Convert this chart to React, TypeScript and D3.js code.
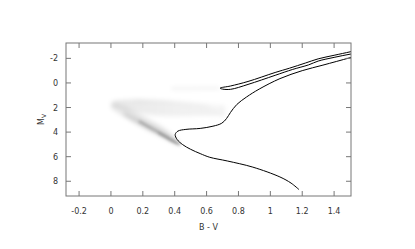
import * as d3 from 'd3'

// isochrone (B-V, M_V), from the lower main sequence up the giant branch,
// then back down to the horizontal branch and up the AGB
const isoBV = [1.18, 1.13, 1.06, 0.89, 0.73, 0.62, 0.56, 0.5, 0.45, 0.415, 0.403, 0.42, 0.47, 0.56, 0.64, 0.695, 0.725, 0.75, 0.79, 0.85, 0.93, 1.06, 1.2, 1.33, 1.5, 1.6,
    1.55, 1.5, 1.4, 1.3, 1.22, 1.12, 1.03, 0.86, 0.75, 0.685,
    0.7, 0.75, 0.86, 1.03, 1.14, 1.24, 1.3, 1.4, 1.5, 1.58]
const isoMV = [8.68, 8.15, 7.65, 6.85, 6.35, 6.05, 5.75, 5.4, 5.02, 4.6, 4.2, 3.92, 3.78, 3.7, 3.52, 3.28, 2.9, 2.4, 1.75, 1.15, 0.5, -0.35, -1.0, -1.45, -2.05, -2.4,
    -2.68, -2.53, -2.25, -1.96, -1.62, -1.2, -0.85, -0.12, 0.25, 0.42,
    0.5, 0.52, 0.12, -0.62, -1.1, -1.47, -1.78, -2.08, -2.34, -2.5]

// synthetic population: main-sequence band (B-V, upper and lower M_V edge)
const bandBV = [0.0, 0.08, 0.17, 0.26, 0.35, 0.43]
const bandTop = [1.55, 1.9, 2.45, 3.1, 3.8, 4.75]
const bandBot = [2.05, 2.75, 3.4, 4.05, 4.6, 5.15]
// denser core of the band
const coreBV = [0.08, 0.16, 0.24, 0.32, 0.4]
const coreTop = [2.3, 2.8, 3.3, 3.85, 4.5]
const coreBot = [2.65, 3.3, 3.85, 4.35, 4.95]
// darkest ridge along the lower edge
const ridgeBV = [0.18, 0.26, 0.33, 0.39, 0.43]
const ridgeMV = [3.15, 3.75, 4.25, 4.7, 5.0]
const ridge2BV = [0.3, 0.36, 0.42]
const ridge2MV = [4.1, 4.55, 4.95]
// faint fan of evolved stars above the band
const fanBV = [0.01, 0.12, 0.28, 0.44, 0.58, 0.72]
const fanTop = [1.45, 1.3, 1.35, 1.5, 1.65, 1.85]
const fanBot = [1.9, 2.3, 2.7, 2.75, 2.7, 2.75]
// streaks inside the fan
const streaks: [number, number][][] = [
    [[0.03, 1.55], [0.25, 1.75], [0.5, 2.05], [0.68, 2.3]],
    [[0.08, 1.95], [0.3, 2.25], [0.55, 2.45], [0.7, 2.55]],
    [[0.15, 1.45], [0.4, 1.6], [0.62, 1.95]],
    [[0.69, 1.8], [0.7, 2.65]],
]
// clump / horizontal branch smear
const hbBV = [0.38, 0.5, 0.6, 0.68]
const hbMV = [0.45, 0.45, 0.44, 0.43]

const xTicks = [-0.2, 0, 0.2, 0.4, 0.6, 0.8, 1, 1.2, 1.4]
const yTicks = [-2, 0, 2, 4, 6, 8]

const W = 415, H = 249
const margin = { left: 66, right: 64, top: 43, bottom: 53 }
const font = 'DejaVu Sans, sans-serif'

export default function App() {
    const x = d3.scaleLinear().domain([-0.282, 1.506]).range([margin.left, W - margin.right])
    const y = d3.scaleLinear().domain([-3.25, 9.2]).range([margin.top, H - margin.bottom])

    const line = d3.line<[number, number]>()
        .x(d => x(d[0]))
        .y(d => y(d[1]))
        .curve(d3.curveCatmullRom.alpha(0.5))

    const area = d3.area<number>()
        .curve(d3.curveCatmullRom.alpha(0.5))

    const bandPath = (bv: number[], top: number[], bot: number[]) =>
        area.x((_, i) => x(bv[i])).y0((_, i) => y(bot[i])).y1((_, i) => y(top[i]))(bv)

    const pts = (bv: number[], mv: number[]) => bv.map((b, i) => [b, mv[i]] as [number, number])

    const x0 = margin.left, x1 = W - margin.right, y0 = margin.top, y1 = H - margin.bottom
    const tick = 5
    const axisColor = '#777'
    const textColor = '#333'

    return (
        <svg width={W} height={H} style={{ position: 'absolute', left: 0, top: 0 }}>
            <defs>
                <clipPath id="plot">
                    <rect x={x0} y={y0} width={x1 - x0} height={y1 - y0} />
                </clipPath>
                <filter id="soft" x="-20%" y="-20%" width="140%" height="140%">
                    <feGaussianBlur stdDeviation="2.2" />
                </filter>
                <filter id="softer" x="-20%" y="-20%" width="140%" height="140%">
                    <feGaussianBlur stdDeviation="1.4" />
                </filter>
                <linearGradient id="fade" x1="0" x2="1" y1="0" y2="0">
                    <stop offset="0" stopColor="#000" stopOpacity={0.08} />
                    <stop offset="0.6" stopColor="#000" stopOpacity={0.045} />
                    <stop offset="1" stopColor="#000" stopOpacity={0.03} />
                </linearGradient>
            </defs>
            <rect x={0} y={0} width={W} height={H} fill="white" />

            <g clipPath="url(#plot)">
                <g filter="url(#soft)">
                    <path d={bandPath(fanBV, fanTop, fanBot) || ''} fill="url(#fade)" />
                    {streaks.map((s, i) => (
                        <path key={i} d={line(s) || ''} fill="none" stroke="#000" strokeOpacity={0.045} strokeWidth={1.8} />
                    ))}
                    <path d={line(pts(hbBV, hbMV)) || ''} fill="none" stroke="#000" strokeOpacity={0.06} strokeWidth={2.5} />
                    <path d={bandPath(bandBV, bandTop, bandBot) || ''} fill="#000" fillOpacity={0.09} />
                    <path d={bandPath(coreBV, coreTop, coreBot) || ''} fill="#000" fillOpacity={0.1} />
                </g>
                <g filter="url(#softer)">
                    <path d={line(pts(ridgeBV, ridgeMV)) || ''} fill="none" stroke="#000" strokeOpacity={0.22} strokeWidth={2.5} strokeLinecap="round" />
                    <path d={line(pts(ridge2BV, ridge2MV)) || ''} fill="none" stroke="#000" strokeOpacity={0.25} strokeWidth={1.8} strokeLinecap="round" />
                </g>
                <path d={line(pts(isoBV, isoMV)) || ''} fill="none" stroke="#000" strokeWidth={1} />
            </g>

            <rect x={x0} y={y0} width={x1 - x0} height={y1 - y0} fill="none" stroke={axisColor} strokeWidth={1} />
            {xTicks.map(t => (
                <g key={'x' + t}>
                    <line x1={x(t)} x2={x(t)} y1={y1} y2={y1 - tick} stroke={axisColor} />
                    <line x1={x(t)} x2={x(t)} y1={y0} y2={y0 + tick} stroke={axisColor} />
                    <text x={x(t)} y={y1 + 18} textAnchor="middle" fontFamily={font} fontSize={8} fill={textColor}>{String(t)}</text>
                </g>
            ))}
            {yTicks.map(t => (
                <g key={'y' + t}>
                    <line x1={x0} x2={x0 + tick} y1={y(t)} y2={y(t)} stroke={axisColor} />
                    <line x1={x1} x2={x1 - tick} y1={y(t)} y2={y(t)} stroke={axisColor} />
                    <text x={x0 - 8} y={y(t) + 3} textAnchor="end" fontFamily={font} fontSize={8} fill={textColor}>{String(t)}</text>
                </g>
            ))}
            <text x={(x0 + x1) / 2} y={y1 + 34} textAnchor="middle" fontFamily={font} fontSize={8} fill={textColor}>B - V</text>
            <text transform={`translate(${x0 - 22},${(y0 + y1) / 2}) rotate(-90)`} textAnchor="middle" fontFamily={font} fontSize={8} fill={textColor}>
                M<tspan fontSize={6} dy={2}>V</tspan>
            </text>
        </svg>
    )
}
